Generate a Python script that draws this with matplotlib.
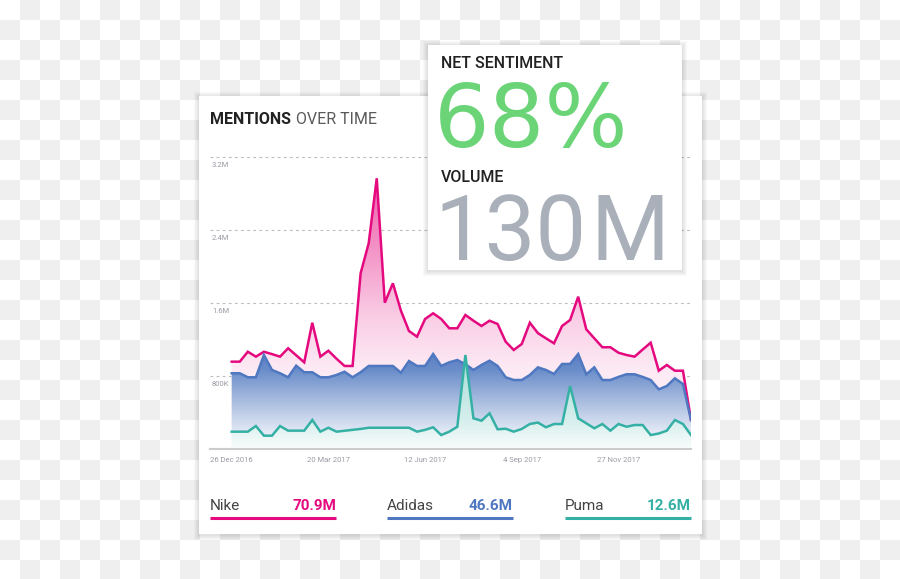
import numpy as np
import pandas as pd
import matplotlib
matplotlib.use("Agg")
import matplotlib.pyplot as plt
import matplotlib.dates as mdates
from matplotlib.patches import Rectangle
from matplotlib.collections import PatchCollection

plt.rcParams['font.family'] = ['Roboto', 'DejaVu Sans']

# weekly mentions (millions)
weeks = pd.date_range("2016-12-26", periods=58, freq="7D")
nike = [0.957, 0.957, 1.066, 1.012, 1.066, 1.04, 1.012, 1.104, 1.027, 0.95,
        1.384, 1.012, 1.077, 0.99, 0.91, 0.91, 1.926, 2.254, 2.967, 1.603,
        1.816, 1.516, 1.293, 1.231, 1.425, 1.487, 1.425, 1.323, 1.323, 1.469,
        1.406, 1.348, 1.406, 1.37, 1.176, 1.085, 1.151, 1.384, 1.27, 1.213,
        1.158, 1.348, 1.414, 1.669, 1.312, 1.213, 1.115, 1.115, 1.055, 1.03,
        1.012, 1.09, 1.165, 0.858, 0.921, 0.858, 0.858, 0.318]
adidas = [0.83, 0.83, 0.786, 0.786, 1.03, 0.866, 0.83, 0.786, 0.913, 0.841,
          0.841, 0.786, 0.786, 0.811, 0.847, 0.786, 0.841, 0.91, 0.91, 0.91,
          0.91, 0.836, 0.964, 0.91, 0.91, 1.041, 0.91, 0.95, 0.975, 0.93,
          0.866, 0.921, 0.968, 0.91, 0.786, 0.756, 0.756, 0.811, 0.895, 0.866,
          0.822, 0.932, 0.932, 1.041, 0.819, 0.895, 0.756, 0.756, 0.79, 0.819,
          0.819, 0.79, 0.756, 0.654, 0.69, 0.775, 0.712, 0.318]
puma = [0.19, 0.19, 0.19, 0.252, 0.146, 0.146, 0.252, 0.201, 0.201, 0.201,
        0.318, 0.19, 0.233, 0.19, 0.2, 0.21, 0.22, 0.233, 0.233, 0.233,
        0.233, 0.233, 0.233, 0.19, 0.21, 0.238, 0.153, 0.19, 0.244, 1.03,
        0.336, 0.31, 0.391, 0.216, 0.222, 0.19, 0.22, 0.274, 0.29, 0.238,
        0.274, 0.274, 0.69, 0.336, 0.282, 0.227, 0.274, 0.201, 0.274, 0.244,
        0.263, 0.263, 0.153, 0.17, 0.201, 0.318, 0.274, 0.153]

brands = ["Nike", "Adidas", "Puma"]
totals = ["70.9M", "46.6M", "12.6M"]
colors = ["#e5097f", "#4f78c0", "#35b0a5"]

y_ticks = [0.8, 1.6, 2.4, 3.2]
y_tick_labels = ["800K", "1.6M", "2.4M", "3.2M"]
x_ticks = pd.to_datetime(["2016-12-26", "2017-03-20", "2017-06-12", "2017-09-04", "2017-11-27"])
x_tick_labels = ["26 Dec 2016", "20 Mar 2017", "12 Jun 2017", "4 Sep 2017", "27 Nov 2017"]

net_sentiment = "68%"
volume_num, volume_unit = "130", "M"

W, H = 900, 579
fig = plt.figure(figsize=(W / 100, H / 100), dpi=100, facecolor="#efefef")


def px_axes(x0, y0, x1, y1, **kw):
    return fig.add_axes([x0 / W, 1 - y1 / H, (x1 - x0) / W, (y1 - y0) / H], **kw)


bg = fig.add_axes([0, 0, 1, 1], zorder=0)
bg.set_xlim(0, W)
bg.set_ylim(H, 0)
bg.axis("off")

# checkerboard backdrop (grey figure + white squares)
squares = [Rectangle((c * 20, r * 20), 20, 20)
           for r in range(H // 20 + 1) for c in range(W // 20 + 1) if (r + c) % 2 == 0]
bg.add_collection(PatchCollection(squares, facecolor="white", edgecolor="none", zorder=0))


def card(ax, x0, y0, x1, y1):
    for k in range(1, 6):
        ax.add_patch(Rectangle((x0 - k, y0 - k + 1), x1 - x0 + 2 * k, y1 - y0 + 2 * k,
                               facecolor="black", alpha=0.022, edgecolor="none", zorder=1))
    ax.add_patch(Rectangle((x0, y0), x1 - x0, y1 - y0, facecolor="white", edgecolor="none", zorder=1))


card(bg, 199, 96, 702, 534)

bg.text(210, 120, "MENTIONS", fontsize=11.5, fontweight="bold", color="#222222", va="center")
bg.text(296, 120, "OVER TIME", fontsize=11.5, color="#5a5a5a", va="center")

# legend row
lx = [(210, 336), (387, 513), (565, 691)]
for (a, b), name, tot, c in zip(lx, brands, totals, colors):
    bg.text(a, 506, name, fontsize=11, color="#444444", va="center")
    bg.text(b, 506, tot, fontsize=11, color=c, fontweight="bold", va="center", ha="right")
    bg.plot([a, b], [518, 518], color=c, lw=2.2, solid_capstyle="butt", zorder=2)

# chart
ax = px_axes(210, 150, 691, 449, zorder=1)
ax.patch.set_alpha(0)
xs = mdates.date2num(weeks)
px_per_day = (691 - 231.7) / (xs[-1] - xs[0])
xmin = xs[0] - 21.7 / px_per_day
xmax = xs[-1]
ytop = (449 - 150) * 0.8 / 73

for y, lab in zip(y_ticks, y_tick_labels):
    ax.axhline(y, color="#bdbdbd", lw=0.8, ls=(0, (2.5, 3)), zorder=0)
    ax.text(0.004, y - 0.055, lab, transform=ax.get_yaxis_transform(),
            fontsize=5.5, color="#9a9aa4", va="top")

fill_alpha = [
    ([0, 0.9, 1.4, 2.2, 3.0, 3.3], [0.03, 0.09, 0.19, 0.44, 0.65, 0.7]),
    ([0, 0.1, 0.43, 0.87, 1.05, 3.3], [0.0, 0.08, 0.4, 0.85, 0.95, 0.95]),
    ([0, 0.3, 1.0, 3.3], [0.03, 0.2, 0.45, 0.45]),
]
vgrid = np.linspace(0, ytop, 300)
for vals, c, (vp, ap) in zip([nike, adidas, puma], colors, fill_alpha):
    rgb = np.array(matplotlib.colors.to_rgb(c))
    a = np.interp(vgrid, vp, ap)[:, None]
    img = (1 - a) * np.ones(3) + a * rgb
    img = np.repeat(img[:, None, :], 2, axis=1)
    poly = ax.fill_between(weeks, vals, 0, facecolor="none", edgecolor="none")
    im = ax.imshow(img, extent=(xmin, xmax, 0, ytop), origin="lower", aspect="auto", zorder=1)
    im.set_clip_path(poly.get_paths()[0], transform=ax.transData)

for vals, c in zip([nike, adidas, puma], colors):
    ax.plot(weeks, vals, color=c, lw=1.8, zorder=3, solid_joinstyle="miter")

ax.set_xlim(xmin, xmax)
ax.set_ylim(0, ytop)
for s in ["top", "right", "left"]:
    ax.spines[s].set_visible(False)
ax.spines["bottom"].set_color("#cccccc")
ax.spines["bottom"].set_linewidth(1.5)
ax.set_yticks([])
ax.set_xticks(x_ticks)
ax.set_xticklabels(x_tick_labels, fontsize=5.5, color="#9a9aa4")
ax.tick_params(axis="x", length=0, pad=6)

# overlay card
top = fig.add_axes([0, 0, 1, 1], zorder=2)
top.set_xlim(0, W)
top.set_ylim(H, 0)
top.axis("off")
top.patch.set_alpha(0)
card(top, 428, 45, 682, 270)
top.text(441, 63, "NET SENTIMENT", fontsize=11.5, fontweight="medium", color="#222222", va="center")
top.text(434, 147, net_sentiment, fontsize=63, family="DejaVu Sans", color="#6ad477", va="baseline")
top.text(441, 177, "VOLUME", fontsize=11.5, fontweight="medium", color="#222222", va="center")
top.text(434, 260, volume_num, fontsize=65, color="#a9b0ba", va="baseline")
top.text(590, 260, volume_unit, fontsize=65, color="#a9b0ba", va="baseline")

fig.savefig("out.png", dpi=100)
